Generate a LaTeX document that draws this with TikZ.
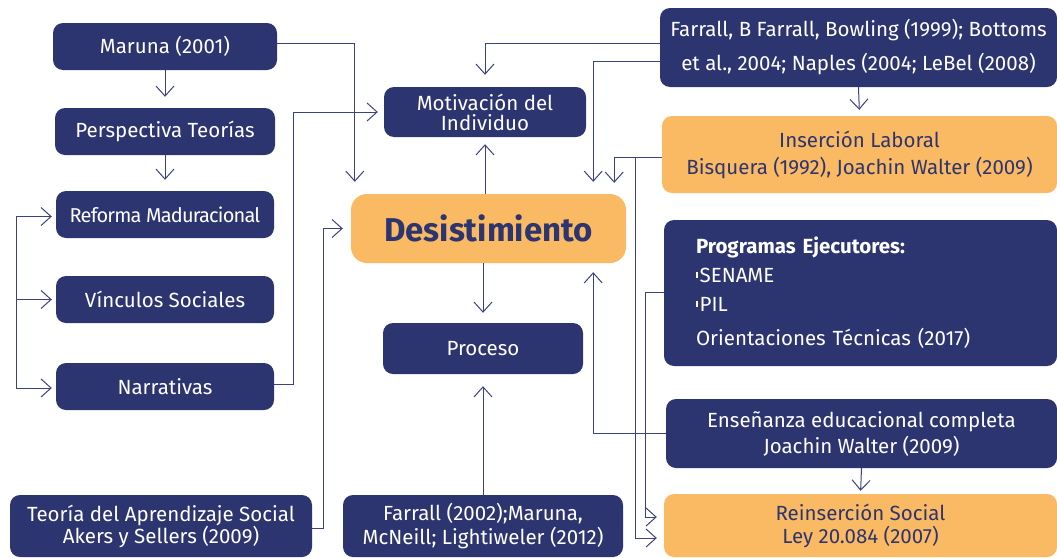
\documentclass[tikz,border=0pt]{standalone}
\usepackage{fontspec}
\setmainfont{Fira Sans}
\usepackage{tikz}
\usetikzlibrary{arrows.meta}

\definecolor{navy}{RGB}{45,53,112}
\definecolor{sand}{RGB}{249,186,99}
\definecolor{linec}{RGB}{59,66,128}

\newcommand{\tickmark}{\rule[5pt]{1.6pt}{6pt}\hspace{2pt}}

\tikzset{
  navybox/.style={rectangle, rounded corners=10pt, fill=navy, text=white,
    align=center, inner sep=0pt, font=\fontsize{20.5}{22}\selectfont},
  sandbox/.style={navybox, fill=sand, text=navy},
  link/.style={draw=linec, line width=1pt,
    -{Straight Barb[length=10pt,width=18pt]}, shorten >=10pt},
}

\begin{document}
\begin{tikzpicture}[x=1pt,y=-1pt]
   \useasboundingbox (0,0) rectangle (1057,557);

   \node[navybox, minimum width=224, minimum height=47](mar) at (165,46.5) {Maruna (2001)};
   \node[navybox, minimum width=220, minimum height=47](per) at (165,131.5) {Perspectiva Teorías};
   \node[navybox, minimum width=218, minimum height=47,
     font=\fontsize{20}{22}\selectfont\addfontfeature{LetterSpace=-4}](ref) at (165,214.5) {Reforma Maduracional};
   \node[navybox, minimum width=218, minimum height=47](vin) at (165,299.5) {Vínculos Sociales};
   \node[navybox, minimum width=218, minimum height=47](nar) at (165,386.5) {Narrativas};
   \node[navybox, minimum width=302, minimum height=62](teo) at (161,526) {Teoría del Aprendizaje Social\\Akers y Sellers (2009)};
   \coordinate (brk) at (16,300);

   \node[navybox, minimum width=202, minimum height=50, font=\fontsize{20.5}{20}\selectfont](mot) at (485,112) {Motivación del\\Individuo};
   \node[sandbox, minimum width=275, minimum height=69, rounded corners=16pt,
     font=\fontsize{33}{36}\selectfont\bfseries](des) at (488.5,228.5) {Desistimiento};
   \node[navybox, minimum width=200, minimum height=51](pro) at (483,348.5) {Proceso};
   \node[navybox, minimum width=280, minimum height=62, font=\fontsize{20.5}{24}\selectfont](far) at (483,526) {Farrall (2002);Maruna,\\McNeill; Lightiweler (2012)};

   \node[navybox, minimum width=397, minimum height=79, font=\fontsize{20.5}{34}\selectfont](fbf) at (858.5,47.5) {Farrall, B Farrall, Bowling (1999); Bottoms\\et al., 2004; Naples (2004; LeBel (2008)};
   \node[sandbox, minimum width=395, minimum height=77, font=\fontsize{20.5}{27}\selectfont](ins) at (859.5,154.5) {Inserción Laboral\\Bisquera (1992), Joachin Walter (2009)};
   \node[navybox, align=left, text width=329, inner xsep=32, minimum height=146,
     font=\fontsize{20.5}{29}\selectfont](prog) at (860.5,293) {\textbf{Programas Ejecutores:}\\\tickmark SENAME\\\tickmark PIL\\[5pt]Orientaciones Técnicas (2017)};
   \node[navybox, minimum width=391, minimum height=69, font=\fontsize{20.5}{26}\selectfont](ens) at (861.5,433.5) {Enseñanza educacional completa\\Joachin Walter (2009)};
   \node[sandbox, minimum width=393, minimum height=63, font=\fontsize{20.5}{23}\selectfont](rei) at (860.5,525.5) {Reinserción Social\\Ley 20.084 (2007)};

   % left column
   \draw[link, shorten >=11pt](mar.south) to (per.north);
   \draw[link, shorten >=11pt](per.south) to (ref.north);
   \draw[link, shorten >=4pt](brk) |- ([yshift=-2pt]ref.west);
   \draw[link, shorten >=4pt](brk) |- (vin.west);
   \draw[link, shorten >=4pt](brk) |- ([yshift=-1.5pt]nar.west);
   \draw[link, shorten >=12pt]([yshift=3pt]mar.east) -| ([xshift=4pt]des.north west);
   \draw[link, shorten >=6pt]([yshift=2pt]nar.east) -- ++(19,0) |- (mot.west);
   \draw[link, shorten >=8pt]([yshift=-2pt]teo.east) -- ++(11,0) |- (des.west);

   % centre column
   \draw[link, shorten >=7pt](mot.south |- des.north) to (mot.south);
   \draw[link](pro.north |- des.south) to (pro.north);
   \draw[link, shorten >=12pt](far.north) to (pro.south);

   % right column
   \draw[link, shorten >=12pt]([yshift=4.5pt]fbf.west) -| (mot.north);
   \draw[link, shorten >=12pt]([yshift=-13.5pt]fbf.west) -| ([xshift=-33pt]des.north east);
   \draw[link, shorten >=6pt](fbf.south) to (ins.north);
   \draw[link, shorten >=11pt]([yshift=-2.5pt]ins.west) -| ([xshift=-12pt]des.north east);
   \draw[link, shorten >=7pt]([xshift=-26pt,yshift=-2.5pt]ins.west) |- ([yshift=-12.5pt]rei.west);
   \draw[link, shorten >=7pt]([yshift=1pt]prog.west) -- ++(-18,0) |- ([yshift=8.5pt]rei.west);
   \draw[link, shorten >=9pt](ens.west) -| ([xshift=-33pt]des.south east);
   \draw[link, shorten >=3pt](ens.south) to (rei.north);

\end{tikzpicture}
\end{document}
